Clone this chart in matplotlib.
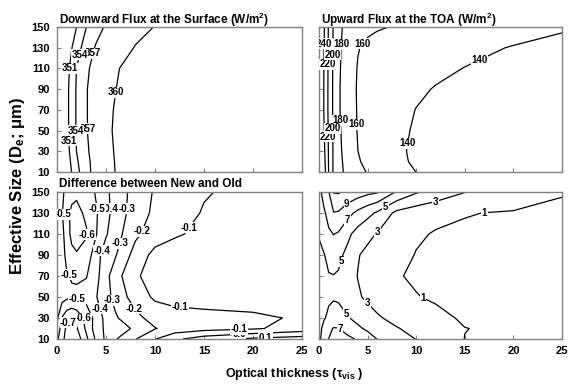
import numpy as np
import matplotlib
matplotlib.use('Agg')
import matplotlib.pyplot as plt

plt.rcParams['font.family'] = ['Liberation Sans', 'DejaVu Sans']
plt.rcParams['font.weight'] = 'bold'
plt.rcParams['mathtext.fontset'] = 'custom'
plt.rcParams['mathtext.rm'] = 'Liberation Sans:bold'
plt.rcParams['mathtext.it'] = 'Liberation Sans:bold'
plt.rcParams['mathtext.bf'] = 'Liberation Sans:bold'
plt.rcParams['mathtext.default'] = 'rm'
plt.rcParams['contour.negative_linestyle'] = 'solid'

# grid: optical thickness (columns) and effective size (rows)
tau = [0, 0.5, 1, 1.5, 2, 3, 4, 5, 6, 8, 10, 12, 15, 20, 25]
de = [10, 20, 30, 50, 70, 90, 110, 130, 150]

# downward flux at the surface (W/m2)
sfc_down = [
    [344.0, 346.8, 349.0, 351.05, 353.2, 355.9, 358.4, 359.4, 360.05, 360.9, 361.3, 361.6, 361.8, 361.9, 362.0],
    [344.2, 347.1, 349.5, 351.5, 353.6, 356.2, 358.3, 359.35, 360.1, 360.9, 361.35, 361.65, 361.85, 361.95, 362.05],
    [344.5, 347.5, 349.9, 352.0, 354.05, 356.6, 358.2, 359.3, 360.2, 360.9, 361.4, 361.7, 361.9, 362.0, 362.1],
    [345.0, 348.0, 350.2, 352.4, 354.3, 356.85, 358.3, 359.5, 360.3, 361.0, 361.5, 361.8, 362.0, 362.1, 362.2],
    [345.0, 348.0, 350.2, 352.4, 354.3, 356.85, 358.3, 359.4, 360.2, 361.0, 361.5, 361.8, 362.0, 362.1, 362.2],
    [345.0, 348.0, 350.2, 352.4, 354.3, 356.85, 358.3, 359.3, 359.98, 361.0, 361.5, 361.8, 362.0, 362.1, 362.2],
    [344.5, 347.5, 349.9, 352.0, 354.05, 356.6, 357.9, 359.0, 359.7, 361.3, 361.6, 361.8, 362.0, 362.1, 362.2],
    [343.5, 346.5, 349.0, 350.9, 352.6, 355.6, 357.3, 358.3, 359.0, 360.1, 360.8, 361.2, 361.6, 361.9, 362.0],
    [342.0, 345.0, 347.5, 349.3, 351.02, 354.02, 356.0, 357.3, 358.4, 359.4, 360.05, 360.6, 361.2, 361.6, 361.8],
]

# upward flux at the TOA (W/m2)
toa_up = [
    [285, 250, 219, 197, 186, 174, 166, 158.7, 153, 146, 139.9, 137, 135, 133, 132],
    [283, 247, 218.5, 197, 185, 173, 162, 155, 150, 143, 138, 136, 134, 132.5, 131.5],
    [282, 245, 218, 197, 184, 172, 160.1, 153, 149, 142, 138, 136, 134, 132.5, 131.5],
    [281, 242, 217, 196.5, 183, 171, 158.8, 152, 148, 142.5, 138.8, 136.5, 134.5, 133, 132],
    [280, 239.5, 216, 196, 182, 170, 158.5, 152, 148, 143, 139.8, 137, 135, 133, 132],
    [280, 239.5, 216, 196, 182, 170, 158, 152, 148.5, 144, 141.5, 139.5, 136, 134, 133],
    [280, 240, 216.5, 196.5, 182.5, 170.5, 158.8, 153, 149.5, 146, 143.5, 142, 139.8, 137, 135],
    [281, 241, 217, 197, 183, 172, 161, 156, 152, 148, 146, 144.5, 142.5, 139.5, 137.5],
    [282, 243, 218, 198, 184, 174, 167, 164, 162, 158.5, 153, 150, 147, 144, 141],
]

# surface flux difference, new minus old
sfc_diff = [
    [-0.58, -0.66, -0.75, -0.78, -0.76, -0.62, -0.48, -0.38, -0.305, -0.205, -0.105, -0.02, 0.05, 0.12, 0.15],
    [-0.52, -0.65, -0.72, -0.74, -0.71, -0.58, -0.45, -0.38, -0.33, -0.29, -0.205, -0.16, -0.135, -0.112, -0.06],
    [-0.48, -0.605, -0.67, -0.695, -0.67, -0.57, -0.46, -0.37, -0.31, -0.23, -0.16, -0.135, -0.125, -0.115, -0.09],
    [-0.42, -0.46, -0.48, -0.49, -0.485, -0.46, -0.405, -0.33, -0.27, -0.15, -0.085, -0.07, -0.065, -0.06, -0.055],
    [-0.43, -0.48, -0.495, -0.505, -0.51, -0.505, -0.43, -0.33, -0.24, -0.11, -0.07, -0.06, -0.05, -0.045, -0.04],
    [-0.43, -0.47, -0.52, -0.57, -0.59, -0.56, -0.44, -0.35, -0.305, -0.16, -0.07, -0.06, -0.05, -0.045, -0.04],
    [-0.44, -0.47, -0.55, -0.63, -0.65, -0.61, -0.505, -0.41, -0.34, -0.22, -0.15, -0.11, -0.08, -0.06, -0.05],
    [-0.44, -0.49, -0.57, -0.62, -0.63, -0.58, -0.51, -0.43, -0.36, -0.25, -0.18, -0.13, -0.095, -0.07, -0.06],
    [-0.43, -0.48, -0.53, -0.57, -0.58, -0.55, -0.49, -0.42, -0.36, -0.26, -0.19, -0.14, -0.105, -0.08, -0.065],
]

# TOA flux difference, new minus old
toa_diff = [
    [4.5, 6.0, 7.02, 7.6, 7.6, 7.4, 6.8, 5.8, 4.95, 3.9, 2.95, 2.0, 0.98, 0.9, 0.85],
    [4.3, 5.6, 6.6, 7.1, 7.05, 6.2, 5.3, 4.7, 4.2, 3.1, 2.5, 1.8, 1.02, 0.8, 0.75],
    [4.2, 4.8, 5.4, 5.9, 5.8, 5.1, 4.5, 3.7, 3.2, 2.5, 2.0, 1.3, 0.85, 0.75, 0.7],
    [4.0, 4.4, 4.7, 4.8, 4.7, 4.0, 3.2, 2.7, 2.3, 1.5, 1.05, 0.85, 0.7, 0.6, 0.55],
    [4.1, 4.6, 4.9, 4.95, 4.8, 3.6, 2.95, 2.5, 2.1, 1.08, 0.85, 0.7, 0.6, 0.5, 0.45],
    [4.3, 4.9, 5.5, 5.8, 5.5, 4.4, 3.1, 2.6, 2.3, 1.4, 0.95, 0.8, 0.7, 0.62, 0.58],
    [5.2, 5.8, 6.6, 7.05, 6.8, 5.4, 4.2, 3.4, 2.9, 2.0, 1.15, 0.92, 0.85, 0.75, 0.7],
    [5.6, 6.6, 7.9, 8.9, 8.8, 7.6, 6.5, 5.6, 4.7, 2.5, 1.9, 1.3, 1.05, 0.9, 0.85],
    [6.2, 8.0, 8.9, 11.1, 11.2, 10.5, 10.0, 9.5, 9.2, 6.8, 5.2, 4.4, 3.05, 1.8, 1.05],
]

levels_sfc = [351, 354, 357, 360]
levels_toa = [140, 160, 180, 200, 220, 240]
levels_sfc_diff = [-0.7, -0.6, -0.5, -0.4, -0.3, -0.2, -0.1, 0.0, 0.1]
levels_toa_diff = [1, 3, 5, 7, 9, 11]

# where the contour labels sit (tau, De); later ones are drawn on top
lab_sfc = [(3.9, 124), (3.4, 52), (1.5, 110), (2.0, 124), (5.9, 87), (1.2, 40), (1.8, 50)]
lab_toa = [(0.6, 134), (1.0, 114), (2.6, 133), (1.65, 123), (4.6, 133), (0.9, 44), (2.1, 60),
           (1.4, 52), (3.5, 56), (16.5, 118), (9.0, 38)]
lab_sfc_diff = [(5.6, 134), (3.9, 134), (7.3, 134), (0.9, 129), (2.7, 110), (8.3, 114), (5.8, 103),
                (4.3, 95), (13.3, 117), (1.0, 70), (5.0, 45), (2.0, 47), (4.1, 38), (7.6, 37),
                (12.5, 37), (3.0, 30), (1.0, 27), (18.6, 14), (18.6, 18.6), (21.3, 11)]
lab_toa_diff = [(3.0, 137), (3.0, 123), (6.8, 136), (11.9, 144), (17.0, 133), (6.1, 111),
                (2.2, 84), (10.4, 44), (5.0, 44), (2.7, 33), (2.0, 17)]

W, H = 568, 385
fig = plt.figure(figsize=(W / 100, H / 100), dpi=100)


def make_ax(x0, y0, x1, y1):
    return fig.add_axes([x0 / W, 1 - y1 / H, (x1 - x0) / W, (y1 - y0) / H])


ax1 = make_ax(57, 27, 302, 172)
ax2 = make_ax(319, 27, 562, 172)
ax3 = make_ax(57, 192, 302, 339)
ax4 = make_ax(319, 192, 562, 339)

panels = [
    (ax1, sfc_down, levels_sfc, lab_sfc, lambda v: f'{v:.0f}'),
    (ax2, toa_up, levels_toa, lab_toa, lambda v: f'{v:.0f}'),
    (ax3, sfc_diff, levels_sfc_diff, lab_sfc_diff, lambda v: f'{v:.1f}'),
    (ax4, toa_diff, levels_toa_diff, lab_toa_diff, lambda v: f'{v:.0f}'),
]

for ax, z, lev, lab, fmt in panels:
    cs = ax.contour(tau, de, np.array(z), levels=lev, colors='k', linewidths=0.9,
                    linestyles='solid')
    texts = ax.clabel(cs, manual=lab, inline=False, fmt=fmt, fontsize=7, colors='k')
    for i, t in enumerate(texts):
        t.set_rotation(0)
        t.set_fontweight('bold')
        t.set_zorder(3 + i * 0.01)
        t.set_bbox(dict(boxstyle='square,pad=0.05', fc='white', ec='none'))
    ax.set_xlim(0, 25)
    ax.set_ylim(10, 150)
    ax.set_xticks([0, 5, 10, 15, 20, 25])
    ax.set_yticks([10, 30, 50, 70, 90, 110, 130, 150])
    ax.tick_params(direction='in', length=3, width=0.8, color='gray', labelsize=8, pad=5)
    for s in ax.spines.values():
        s.set_color('gray')
        s.set_linewidth(1.0)

ax1.tick_params(labelbottom=False)
ax2.tick_params(labelbottom=False, labelleft=False)
ax4.tick_params(labelleft=False)

ax1.text(0.008, 1 + 3 / 145, 'Downward Flux at the Surface (W/m$^2$)', transform=ax1.transAxes,
         ha='left', va='baseline', fontsize=8.5, fontweight='bold')
ax2.text(0.008, 1 + 3 / 145, 'Upward Flux at the TOA (W/m$^2$)', transform=ax2.transAxes,
         ha='left', va='baseline', fontsize=8.5, fontweight='bold')
ax3.text(0.008, 1 + 5 / 147, 'Difference between New and Old', transform=ax3.transAxes,
         ha='left', va='baseline', fontsize=8.5, fontweight='bold')

fig.text(18 / W, 1 - 186 / H, 'Effective Size (D$_e$; μm)', rotation=90, ha='center', va='center',
         fontsize=12, fontweight='bold')
fig.text(294 / W, 1 - 374 / H, r'Optical thickness (τ$_{vis}$ )', ha='center', va='center',
         fontsize=9, fontweight='bold')

fig.savefig('out.png', dpi=100)
